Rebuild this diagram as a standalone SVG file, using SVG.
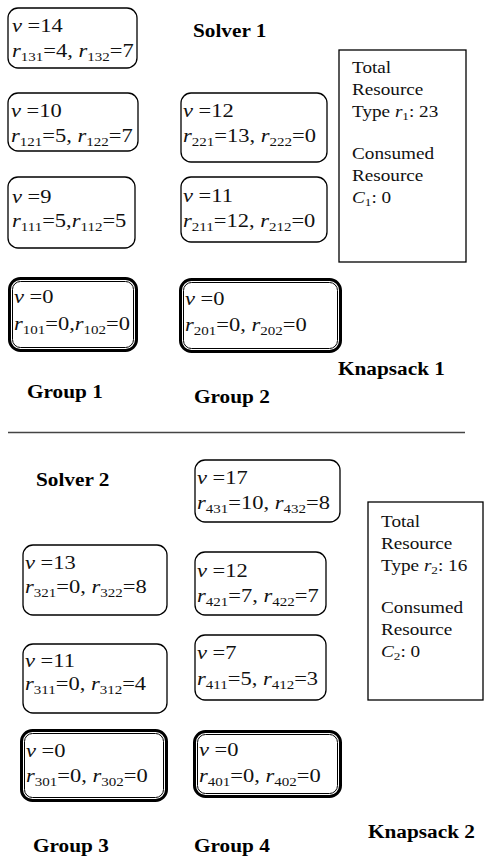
<svg xmlns="http://www.w3.org/2000/svg" width="492" height="861" viewBox="0 0 492 861">
  <style>
    .box { fill: #fff; stroke: #000; stroke-width: 1.3; }
    .dbl-o { fill: #fff; stroke: #000; stroke-width: 3; }
    .dbl-i { fill: none; stroke: #000; stroke-width: 1; }
    .res { fill: #fff; stroke: #000; stroke-width: 1.3; }
    .t { font-family: "Liberation Serif", "Times New Roman", serif; font-size: 18px; fill: #111; }
    .r { font-family: "Liberation Serif", "Times New Roman", serif; font-size: 16px; fill: #111; }
    .b { font-family: "Liberation Serif", "Times New Roman", serif; font-size: 19px; font-weight: bold; fill: #000; }
    .i { font-style: italic; }
    .s { font-size: 12px; }
    .rs { font-size: 11px; }
    .sep { stroke: #444; stroke-width: 1.3; }
  </style>

  <!-- Solver 1 -->
  <g id="solver1-label"><text class="b" transform="translate(193 37) scale(1.12 1)">Solver 1</text></g>

  <g id="n131">
    <rect class="box" x="8" y="8" width="129" height="60" rx="10"/>
    <text class="t" transform="translate(12 32) scale(1.25 1)"><tspan class="i">v</tspan> =14</text>
    <text class="t" transform="translate(12 57) scale(1.25 1)"><tspan class="i">r</tspan><tspan class="s" dy="4">131</tspan><tspan dy="-4">=4, </tspan><tspan class="i">r</tspan><tspan class="s" dy="4">132</tspan><tspan dy="-4">=7</tspan></text>
  </g>

  <g id="n121">
    <rect class="box" x="8" y="93" width="130" height="58" rx="10"/>
    <text class="t" transform="translate(11 117) scale(1.25 1)"><tspan class="i">v</tspan> =10</text>
    <text class="t" transform="translate(11 142) scale(1.25 1)"><tspan class="i">r</tspan><tspan class="s" dy="4">121</tspan><tspan dy="-4">=5, </tspan><tspan class="i">r</tspan><tspan class="s" dy="4">122</tspan><tspan dy="-4">=7</tspan></text>
  </g>

  <g id="n111">
    <rect class="box" x="8" y="177" width="127" height="71" rx="10"/>
    <text class="t" transform="translate(12 203) scale(1.25 1)"><tspan class="i">v</tspan> =9</text>
    <text class="t" transform="translate(12 227) scale(1.25 1)"><tspan class="i">r</tspan><tspan class="s" dy="4">111</tspan><tspan dy="-4">=5,</tspan><tspan class="i">r</tspan><tspan class="s" dy="4">112</tspan><tspan dy="-4">=5</tspan></text>
  </g>

  <g id="n101">
    <rect class="dbl-o" x="9.5" y="278.5" width="127" height="72" rx="11"/>
    <rect class="dbl-i" x="12.5" y="281.5" width="121" height="66" rx="8"/>
    <text class="t" transform="translate(14 303) scale(1.25 1)"><tspan class="i">v</tspan> =0</text>
    <text class="t" transform="translate(14 330) scale(1.25 1)"><tspan class="i">r</tspan><tspan class="s" dy="4">101</tspan><tspan dy="-4">=0,</tspan><tspan class="i">r</tspan><tspan class="s" dy="4">102</tspan><tspan dy="-4">=0</tspan></text>
  </g>

  <g id="n221">
    <rect class="box" x="181" y="93" width="146" height="69" rx="10"/>
    <text class="t" transform="translate(183 117) scale(1.25 1)"><tspan class="i">v</tspan> =12</text>
    <text class="t" transform="translate(183 142) scale(1.25 1)"><tspan class="i">r</tspan><tspan class="s" dy="4">221</tspan><tspan dy="-4">=13, </tspan><tspan class="i">r</tspan><tspan class="s" dy="4">222</tspan><tspan dy="-4">=0</tspan></text>
  </g>

  <g id="n211">
    <rect class="box" x="181" y="177" width="146" height="65" rx="10"/>
    <text class="t" transform="translate(183 202) scale(1.25 1)"><tspan class="i">v</tspan> =11</text>
    <text class="t" transform="translate(183 227) scale(1.25 1)"><tspan class="i">r</tspan><tspan class="s" dy="4">211</tspan><tspan dy="-4">=12, </tspan><tspan class="i">r</tspan><tspan class="s" dy="4">212</tspan><tspan dy="-4">=0</tspan></text>
  </g>

  <g id="n201">
    <rect class="dbl-o" x="180.5" y="279.5" width="160" height="72" rx="11"/>
    <rect class="dbl-i" x="183.5" y="282.5" width="154" height="66" rx="8"/>
    <text class="t" transform="translate(185 305) scale(1.25 1)"><tspan class="i">v</tspan> =0</text>
    <text class="t" transform="translate(185 331) scale(1.25 1)"><tspan class="i">r</tspan><tspan class="s" dy="4">201</tspan><tspan dy="-4">=0, </tspan><tspan class="i">r</tspan><tspan class="s" dy="4">202</tspan><tspan dy="-4">=0</tspan></text>
  </g>

  <g id="knapsack1">
    <rect class="res" x="339" y="50" width="127" height="212"/>
    <g class="r">
      <text transform="translate(352 73) scale(1.2 1)">Total</text>
      <text transform="translate(352 95) scale(1.2 1)">Resource</text>
      <text transform="translate(352 117) scale(1.2 1)">Type <tspan class="i">r</tspan><tspan class="rs" dy="3">1</tspan><tspan dy="-3">: 23</tspan></text>
      <text transform="translate(352 159) scale(1.2 1)">Consumed</text>
      <text transform="translate(352 181) scale(1.2 1)">Resource</text>
      <text transform="translate(352 203) scale(1.2 1)"><tspan class="i">C</tspan><tspan class="rs" dy="3">1</tspan><tspan dy="-3">: 0</tspan></text>
    </g>
  </g>

  <g id="knapsack1-label"><text class="b" transform="translate(338 375) scale(1.12 1)">Knapsack 1</text></g>
  <g id="group1-label"><text class="b" transform="translate(27 398) scale(1.12 1)">Group 1</text></g>
  <g id="group2-label"><text class="b" transform="translate(194 403) scale(1.12 1)">Group 2</text></g>

  <!-- divider between the two solvers -->
  <g id="connectors">
    <line class="sep" x1="8" y1="432.5" x2="465" y2="432.5"/>
  </g>

  <!-- Solver 2 -->
  <g id="solver2-label"><text class="b" transform="translate(36 486) scale(1.12 1)">Solver 2</text></g>

  <g id="n431">
    <rect class="box" x="195" y="460" width="145" height="62" rx="10"/>
    <text class="t" transform="translate(197 484) scale(1.25 1)"><tspan class="i">v</tspan> =17</text>
    <text class="t" transform="translate(197 509) scale(1.25 1)"><tspan class="i">r</tspan><tspan class="s" dy="4">431</tspan><tspan dy="-4">=10, </tspan><tspan class="i">r</tspan><tspan class="s" dy="4">432</tspan><tspan dy="-4">=8</tspan></text>
  </g>

  <g id="n421">
    <rect class="box" x="195" y="552" width="131" height="63" rx="10"/>
    <text class="t" transform="translate(197 577) scale(1.25 1)"><tspan class="i">v</tspan> =12</text>
    <text class="t" transform="translate(197 602) scale(1.25 1)"><tspan class="i">r</tspan><tspan class="s" dy="4">421</tspan><tspan dy="-4">=7, </tspan><tspan class="i">r</tspan><tspan class="s" dy="4">422</tspan><tspan dy="-4">=7</tspan></text>
  </g>

  <g id="n411">
    <rect class="box" x="195" y="635" width="131" height="65" rx="10"/>
    <text class="t" transform="translate(197 659) scale(1.25 1)"><tspan class="i">v</tspan> =7</text>
    <text class="t" transform="translate(197 685) scale(1.25 1)"><tspan class="i">r</tspan><tspan class="s" dy="4">411</tspan><tspan dy="-4">=5, </tspan><tspan class="i">r</tspan><tspan class="s" dy="4">412</tspan><tspan dy="-4">=3</tspan></text>
  </g>

  <g id="n401">
    <rect class="dbl-o" x="194.5" y="731.5" width="146" height="65" rx="11"/>
    <rect class="dbl-i" x="197.5" y="734.5" width="140" height="59" rx="8"/>
    <text class="t" transform="translate(199 756) scale(1.25 1)"><tspan class="i">v</tspan> =0</text>
    <text class="t" transform="translate(199 782) scale(1.25 1)"><tspan class="i">r</tspan><tspan class="s" dy="4">401</tspan><tspan dy="-4">=0, </tspan><tspan class="i">r</tspan><tspan class="s" dy="4">402</tspan><tspan dy="-4">=0</tspan></text>
  </g>

  <g id="n321">
    <rect class="box" x="23" y="545" width="144" height="70" rx="10"/>
    <text class="t" transform="translate(25 569) scale(1.25 1)"><tspan class="i">v</tspan> =13</text>
    <text class="t" transform="translate(25 593) scale(1.25 1)"><tspan class="i">r</tspan><tspan class="s" dy="4">321</tspan><tspan dy="-4">=0, </tspan><tspan class="i">r</tspan><tspan class="s" dy="4">322</tspan><tspan dy="-4">=8</tspan></text>
  </g>

  <g id="n311">
    <rect class="box" x="23" y="644" width="144" height="69" rx="10"/>
    <text class="t" transform="translate(25 667) scale(1.25 1)"><tspan class="i">v</tspan> =11</text>
    <text class="t" transform="translate(25 690) scale(1.25 1)"><tspan class="i">r</tspan><tspan class="s" dy="4">311</tspan><tspan dy="-4">=0, </tspan><tspan class="i">r</tspan><tspan class="s" dy="4">312</tspan><tspan dy="-4">=4</tspan></text>
  </g>

  <g id="n301">
    <rect class="dbl-o" x="21.5" y="730.5" width="145" height="70" rx="11"/>
    <rect class="dbl-i" x="24.5" y="733.5" width="139" height="64" rx="8"/>
    <text class="t" transform="translate(26 757) scale(1.25 1)"><tspan class="i">v</tspan> =0</text>
    <text class="t" transform="translate(26 782) scale(1.25 1)"><tspan class="i">r</tspan><tspan class="s" dy="4">301</tspan><tspan dy="-4">=0, </tspan><tspan class="i">r</tspan><tspan class="s" dy="4">302</tspan><tspan dy="-4">=0</tspan></text>
  </g>

  <g id="knapsack2">
    <rect class="res" x="368" y="502" width="115" height="198"/>
    <g class="r">
      <text transform="translate(381 527) scale(1.2 1)">Total</text>
      <text transform="translate(381 549) scale(1.2 1)">Resource</text>
      <text transform="translate(381 571) scale(1.2 1)">Type <tspan class="i">r</tspan><tspan class="rs" dy="3">2</tspan><tspan dy="-3">: 16</tspan></text>
      <text transform="translate(381 613) scale(1.2 1)">Consumed</text>
      <text transform="translate(381 635) scale(1.2 1)">Resource</text>
      <text transform="translate(381 657) scale(1.2 1)"><tspan class="i">C</tspan><tspan class="rs" dy="3">2</tspan><tspan dy="-3">: 0</tspan></text>
    </g>
  </g>

  <g id="knapsack2-label"><text class="b" transform="translate(368 838) scale(1.12 1)">Knapsack 2</text></g>
  <g id="group3-label"><text class="b" transform="translate(33 852) scale(1.12 1)">Group 3</text></g>
  <g id="group4-label"><text class="b" transform="translate(194 852) scale(1.12 1)">Group 4</text></g>
</svg>
